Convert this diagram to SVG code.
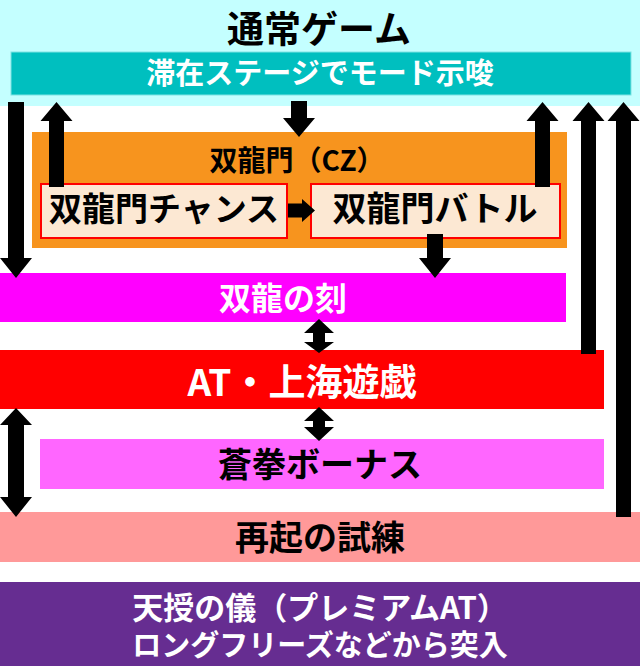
<svg xmlns="http://www.w3.org/2000/svg" width="640" height="666" viewBox="0 0 640 666">
<style>
text{font-family:"Noto Sans CJK JP","Noto Sans",sans-serif;font-weight:700;text-anchor:middle}
.w{fill:#ffffff}
.b{fill:#000000}
.arr{fill:#000000}
.sub{fill:#FCE8D3;stroke:#FF0000;stroke-width:2}
</style>
<rect x="0" y="0" width="640" height="666" fill="#ffffff"/>
<g id="normal">
<rect x="0" y="0" width="640" height="106" fill="#C4FFFF"/>
<text class="b" x="319" y="43" font-size="37">通常ゲーム</text>
</g>
<g id="stage">
<rect x="11" y="52" width="620" height="43" fill="#00BFBF" stroke="#7FE3E3" stroke-width="1"/>
<text class="w" x="320" y="84" font-size="29">滞在ステージでモード示唆</text>
</g>
<g id="cz">
<rect x="32" y="132" width="535" height="116" fill="#F7941E"/>
<text class="b" x="297" y="171" font-size="28">双龍門（CZ）</text>
</g>
<g id="chance">
<rect class="sub" x="41" y="184" width="246" height="54"/>
<text class="b" x="164" y="221" font-size="33">双龍門チャンス</text>
</g>
<g id="battle">
<rect class="sub" x="311" y="184" width="249" height="54"/>
<text class="b" x="435" y="221" font-size="34">双龍門バトル</text>
</g>
<g id="toki">
<rect x="0" y="273" width="566" height="49" fill="#FF00FF"/>
<text class="w" x="283" y="310" font-size="32">双龍の刻</text>
</g>
<g id="at">
<rect x="0" y="350" width="604" height="59" fill="#FF0000"/>
<text class="w" x="302" y="396" font-size="37">AT・上海遊戯</text>
</g>
<g id="bonus">
<rect x="40" y="439" width="564" height="50" fill="#FF66FF"/>
<text class="b" x="320" y="477" font-size="34">蒼拳ボーナス</text>
</g>
<g id="saiki">
<rect x="0" y="512" width="640" height="50" fill="#FF9999"/>
<text class="b" x="320" y="550" font-size="34">再起の試練</text>
</g>
<g id="tenju">
<rect x="0" y="582" width="640" height="84" fill="#662D91"/>
<text class="w" x="320" y="619" font-size="31">天授の儀（プレミアムAT）</text>
<text class="w" x="320" y="656" font-size="29">ロングフリーズなどから突入</text>
</g>
<g id="connectors">
<polygon class="arr" points="16,278 32,258 24,258 24,102 8,102 8,258 0,258"/>
<polygon class="arr" points="56.5,102 72.5,121 64,121 64,187 49,187 49,121 40.5,121"/>
<polygon class="arr" points="299,137 315,118 307,118 307,101 291,101 291,118 283,118"/>
<polygon class="arr" points="542.5,102 558.5,121 550,121 550,187 535,187 535,121 526.5,121"/>
<polygon class="arr" points="588.5,102 604.5,121 596,121 596,354 581,354 581,121 572.5,121"/>
<polygon class="arr" points="623.5,102 639.5,121 631,121 631,517 616,517 616,121 607.5,121"/>
<polygon class="arr" points="288,203.5 302,203.5 302,199 315,210.5 302,222 302,217.5 288,217.5"/>
<polygon class="arr" points="435,278 451,258 443,258 443,234 427,234 427,258 419,258"/>
<polygon class="arr" points="319,319 334,333 325,333 325,342 334,342 319,353 304,342 313,342 313,333 304,333"/>
<polygon class="arr" points="319,407 334,421 325,421 325,427 334,427 319,441 304,427 313,427 313,421 304,421"/>
<polygon class="arr" points="16,408 32,425 24,425 24,497 32,497 16,517 0,497 8,497 8,425 0,425"/>
</g>
</svg>
